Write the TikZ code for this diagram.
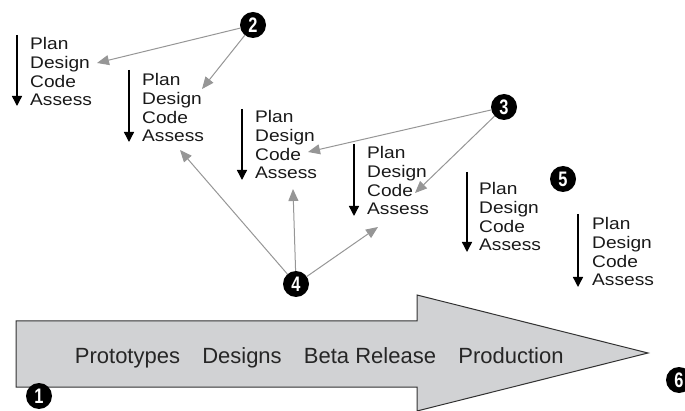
\documentclass[tikz,border=0pt]{standalone}
\usepackage{fontspec}
\setmainfont{Liberation Sans}
\newfontfamily\blockfont{Liberation Sans}[FakeStretch=1.14]
\newfontfamily\numfont{Liberation Sans}[FakeStretch=0.78]
\usetikzlibrary{arrows.meta}
\definecolor{conngray}{RGB}{150,150,150}
\definecolor{bodygray}{RGB}{209,210,212}
\definecolor{edgegray}{RGB}{50,50,50}
\begin{document}
\begin{tikzpicture}[x=1pt,y=-1pt,
  num/.style={circle,fill=black,minimum size=26pt,inner sep=0pt,text=white,
    font=\numfont\bfseries\fontsize{21}{21}\selectfont},
  blk/.style={anchor=base west,align=left,inner sep=0pt,text=black!90,
    font=\blockfont\fontsize{16.8}{18.7}\selectfont},
  down/.style={line width=1.4pt,draw=black,-{Triangle[width=10pt,length=10pt]}},
  conn/.style={line width=1pt,draw=conngray,-{Triangle[width=10pt,length=12pt,fill=conngray]}},
  phase/.style={anchor=base,inner sep=0pt,font=\fontsize{22}{22}\selectfont,text=black!85}]
\useasboundingbox (0,0) rectangle (685,411);
% big arrow
\draw[fill=bodygray,draw=edgegray,line width=1pt]
  (16,321) -- (417,321) -- (417,295) -- (648,353) -- (417,411) -- (417,387) -- (16,387) -- cycle;
\node[phase] (p1) at (127.5,363) {Prototypes};
\node[phase] (p2) at (242,363) {Designs};
\node[phase] (p3) at (370,363) {Beta Release};
\node[phase] (p4) at (511,363) {Production};
% blocks
\foreach \i/\ax/\top/\tip/\tx/\b in {1/17/35/106/30/106, 2/129/70/142/142/142, 3/242/109/180/255/179,
  4/354/144/216/367/215, 5/467/172/252/479/251, 6/578/214/287/592/286}{
  \coordinate (a\i t) at (\ax,\top);
  \coordinate (a\i b) at (\ax,\tip);
  \draw[down] (a\i t) -- (a\i b);
  \node[blk] (b\i) at (\tx,\b) {Plan\\Design\\Code\\Assess};
}
% numbered circles
\node[num] (c1) at (39,396) {1};
\node[num] (c2) at (253,25) {2};
\node[num] (c3) at (504,107) {3};
\node[num] (c4) at (296,284) {4};
\node[num] (c5) at (563,179) {5};
\node[num] (c6) at (679,380) {6};
% targets
\coordinate (t2a) at (97,63);
\coordinate (t2b) at (202,89);
\coordinate (t3a) at (308,152);
\coordinate (t3b) at (415,193);
\coordinate (t4a) at (180,150);
\coordinate (t4b) at (293,189);
\coordinate (t4c) at (378,227);
\draw[conn] (c2) -- (t2a);
\draw[conn] (c2) -- (t2b);
\draw[conn] (c3) -- (t3a);
\draw[conn] (c3) -- (t3b);
\draw[conn] (c4) -- (t4a);
\draw[conn] (c4) -- (t4b);
\draw[conn] (c4) -- (t4c);
\end{tikzpicture}
\end{document}
